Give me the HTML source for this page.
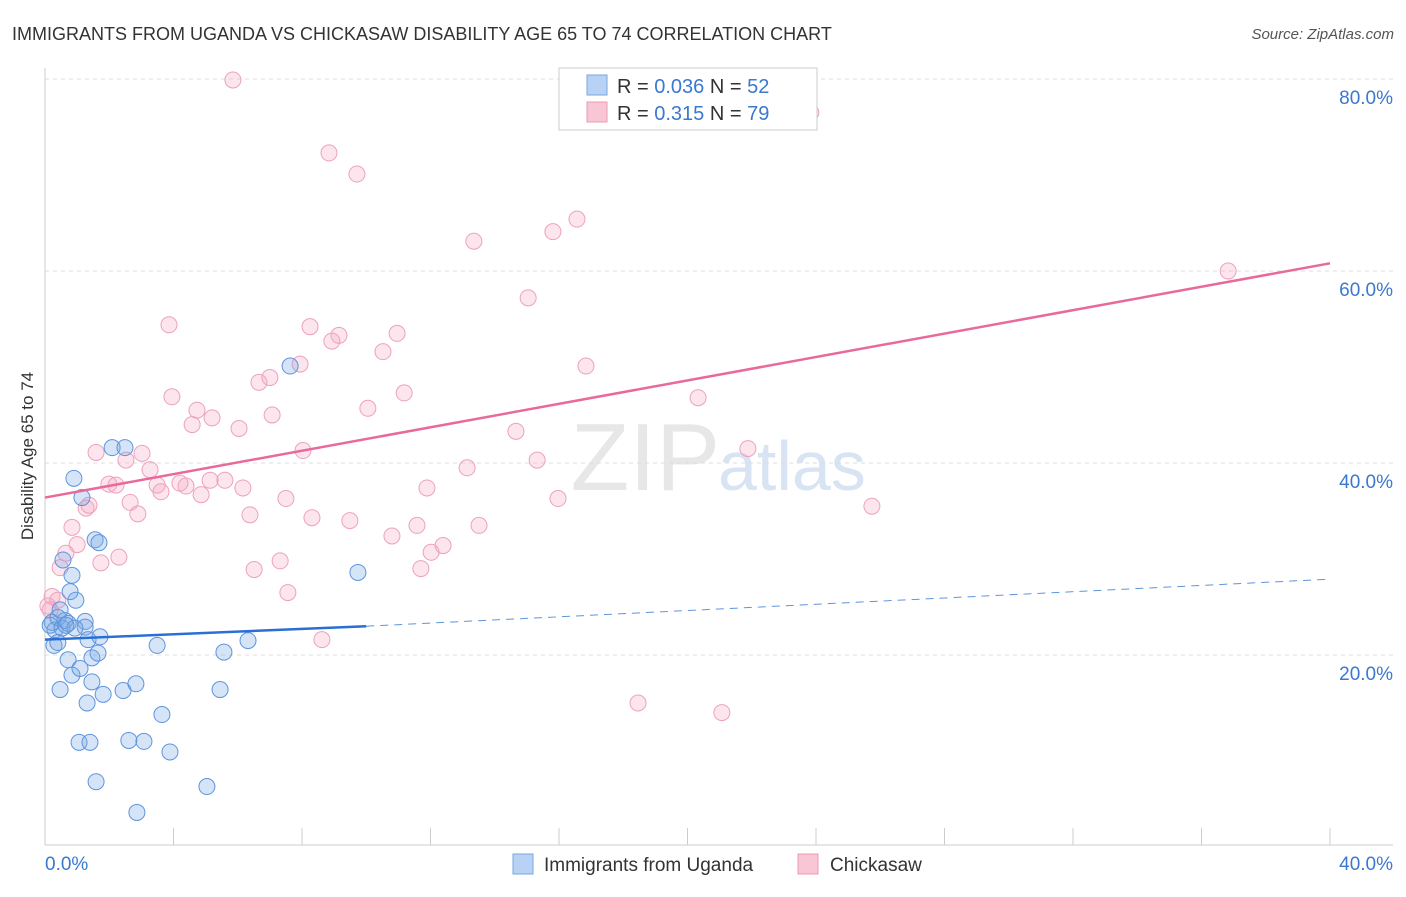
<!DOCTYPE html>
<html><head><meta charset="utf-8"><style>
body{margin:0;background:#fff;font-family:"Liberation Sans",sans-serif}
svg text{font-family:"Liberation Sans",sans-serif}
</style></head><body>
<svg id="chart" width="1406" height="892" xmlns="http://www.w3.org/2000/svg">
<text x="12" y="40" font-size="18" fill="#333">IMMIGRANTS FROM UGANDA VS CHICKASAW DISABILITY AGE 65 TO 74 CORRELATION CHART</text>
<text x="1394" y="39" font-size="15" fill="#555" text-anchor="end" font-style="italic">Source: ZipAtlas.com</text>
<text transform="translate(33,456) rotate(-90)" font-size="17" fill="#333" text-anchor="middle">Disability Age 65 to 74</text>
<text x="720" y="490" font-size="96" fill="#ddd" text-anchor="end" font-family="Liberation Serif" opacity="0.7">ZIP</text>
<text x="718" y="490" font-size="70" fill="#c8daf0" opacity="0.7">atlas</text>
<g id="grid"></g><g id="marks"></g>
<g>
<rect x="559" y="68" width="258" height="62" fill="#fff" stroke="#ccc"/>
<rect x="587" y="75" width="20" height="20" fill="#b7d2f5" stroke="#7aa7e0"/>
<rect x="587" y="102" width="20" height="20" fill="#f9c6d6" stroke="#eb9bb6"/>
<text x="617" y="93" font-size="20" fill="#333">R = <tspan fill="#3b78d0">0.036</tspan>   N = <tspan fill="#3b78d0">52</tspan></text>
<text x="617" y="120" font-size="20" fill="#333">R =  <tspan fill="#3b78d0">0.315</tspan>   N = <tspan fill="#3b78d0">79</tspan></text>
</g>
<g>
<rect x="513" y="854" width="20" height="20" fill="#b7d2f5" stroke="#7aa7e0"/>
<text x="544" y="871" font-size="19" fill="#333">Immigrants from Uganda</text>
<rect x="798" y="854" width="20" height="20" fill="#f9c6d6" stroke="#eb9bb6"/>
<text x="830" y="871" font-size="19" fill="#333">Chickasaw</text>
</g>
</svg>
<script>
const xTicks=[0,4,8,12,16,20,24,28,32,36,40];
const yTicks=[20,40,60,80];
const blueX=[.22,.31,.16,.40,.53,.62,.72,.28,.40,.47,.56,.84,.90,.96,.78,1.15,1.25,1.34,1.46,1.56,1.68,1.65,1.71,.72,.84,1.09,1.46,1.31,1.81,2.43,2.83,1.06,1.40,1.59,2.61,3.08,3.64,3.89,3.49,5.04,5.45,5.57,6.32,2.09,2.49,2.86,7.63,9.74,1.25,.47,.93,.65];
const blueY=[23.4,22.6,23.1,23.9,22.8,23.6,23.3,21.0,21.3,16.4,29.9,28.3,38.4,25.7,26.6,36.4,23.5,21.6,19.7,32.0,31.7,20.2,21.9,19.5,17.9,18.6,17.2,15.0,15.9,16.3,17.0,10.9,10.9,6.8,11.1,11.0,13.8,9.9,21.0,6.3,16.4,20.3,21.5,41.6,41.6,3.6,50.1,28.6,22.9,24.7,22.8,23.1];
const pinkX=[5.85,8.84,9.71,13.35,15.81,16.56,23.84,36.83,15.04,3.86,8.25,9.15,8.93,10.96,10.52,16.84,7.94,7.00,6.66,3.95,5.20,4.73,4.58,6.04,7.07,10.05,11.18,20.33,14.66,21.88,15.32,13.14,8.03,1.59,2.52,3.02,3.27,1.99,2.21,3.49,3.61,4.39,4.20,5.14,5.60,6.16,4.86,2.65,2.89,1.28,1.37,.84,7.50,11.89,15.97,25.74,6.38,8.31,9.49,11.58,13.51,10.80,12.39,12.02,1.00,.65,2.30,1.74,7.32,11.70,6.51,.47,7.56,.22,.40,.09,.16,8.62,18.46,21.07];
const pinkY=[79.9,72.3,70.1,63.1,64.1,65.4,76.5,60.0,57.2,54.4,54.2,53.3,52.7,53.5,51.6,50.1,50.3,48.9,48.4,46.9,44.7,45.5,44.0,43.6,45.0,45.7,47.3,46.8,43.3,41.5,40.3,39.5,41.3,41.1,40.3,41.0,39.3,37.8,37.7,37.7,37.0,37.6,37.9,38.2,38.2,37.4,36.7,35.9,34.7,35.3,35.6,33.3,36.3,37.4,36.3,35.5,34.6,34.3,34.0,33.5,33.5,32.4,31.4,30.7,31.5,30.6,30.2,29.6,29.8,29.0,28.9,29.1,26.5,26.1,25.7,25.1,24.7,21.6,15.0,14.0];
const blueTrend=[[0,21.6],[10,23.0],[40,27.9]];
const pinkTrend=[[0,36.4],[40,60.8]];
const X=v=>45+v/40*1285, Y=v=>847-v*9.6;
const NS="http://www.w3.org/2000/svg";
function mk(p,t,a){const e=document.createElementNS(NS,t);for(const k in a)e.setAttribute(k,a[k]);p.appendChild(e);return e;}
const g=document.getElementById('grid'),m=document.getElementById('marks');
let ax=mk(g,'line',{x1:45,y1:845,x2:1393,y2:845,stroke:'#ccc'});

let ay=mk(g,'line',{x1:45,y1:68,x2:45,y2:845,stroke:'#ccc'});

xTicks.forEach(t=>{const l=mk(g,'line',{x1:X(t),y1:828,x2:X(t),y2:845,stroke:'#ccc'});

});
[[0,'0.0%',45,'start'],[40,'40.0%',1393,'end']].forEach(d=>{const t=mk(g,'text',{x:d[2],y:870,'font-size':19,fill:'#3b78d0','text-anchor':d[3]});t.textContent=d[1];

});
yTicks.forEach(v=>{const l=mk(g,'line',{x1:45,y1:Y(v),x2:1393,y2:Y(v),stroke:'#ddd','stroke-dasharray':'4,4'});


const t=mk(g,'text',{x:1393,y:Y(v)+25,'font-size':19,fill:'#3b78d0','text-anchor':'end'});t.textContent=v.toFixed(1)+'%';

});
pinkX.forEach((x,i)=>{const c=mk(m,'circle',{cx:X(x),cy:Y(pinkY[i]),r:8,fill:'rgba(244,170,196,0.3)',stroke:'#eca2bc','stroke-width':1});

});
blueX.forEach((x,i)=>{const c=mk(m,'circle',{cx:X(x),cy:Y(blueY[i]),r:8,fill:'rgba(120,165,230,0.3)',stroke:'#5e95dc','stroke-width':1});

});
let pl=mk(m,'line',{x1:X(pinkTrend[0][0]),y1:Y(pinkTrend[0][1]),x2:X(pinkTrend[1][0]),y2:Y(pinkTrend[1][1]),stroke:'#e8699a','stroke-width':2.5});

let bl=mk(m,'line',{x1:X(blueTrend[0][0]),y1:Y(blueTrend[0][1]),x2:X(blueTrend[1][0]),y2:Y(blueTrend[1][1]),stroke:'#2a6fd6','stroke-width':2.5});

let bd=mk(m,'line',{x1:X(blueTrend[1][0]),y1:Y(blueTrend[1][1]),x2:X(blueTrend[2][0]),y2:Y(blueTrend[2][1]),stroke:'#5e95dc','stroke-width':1,'stroke-dasharray':'8,6'});

</script>
</body></html>
